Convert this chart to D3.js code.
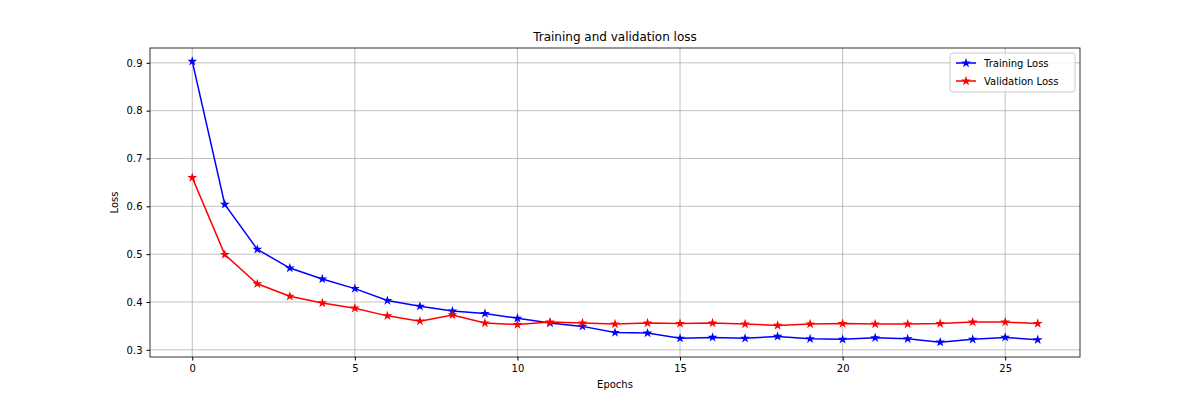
<!DOCTYPE html>
<html><head><meta charset="utf-8">
<script src="https://cdn.jsdelivr.net/npm/d3@7"></script>
<style>body{margin:0;background:#fff}text{font-family:"DejaVu Sans",sans-serif;}</style>
</head><body><svg id="c" width="1200" height="400"></svg>
<script>
const epochs = d3.range(27);
const trainLoss = [0.903,0.604,0.510,0.471,0.448,0.428,0.403,0.391,0.381,0.376,0.366,0.356,0.349,0.336,0.335,0.324,0.326,0.324,0.328,0.323,0.322,0.325,0.323,0.316,0.322,0.326,0.321];
const valLoss = [0.660,0.499,0.438,0.412,0.398,0.387,0.371,0.360,0.373,0.356,0.353,0.358,0.356,0.354,0.356,0.355,0.356,0.354,0.351,0.354,0.355,0.354,0.354,0.355,0.358,0.358,0.355];
const xTicks = [0,5,10,15,20,25];
const yTicks = [0.3,0.4,0.5,0.6,0.7,0.8,0.9];

const svg = d3.select("#c");
const L=150,R=1080,T=48,B=357;
const x = d3.scaleLinear().domain([-1.3,27.3]).range([L,R]);
const y = d3.scaleLinear().domain([0.285,0.931]).range([B,T]);

// grid
svg.append("g").selectAll("line").data(xTicks).join("line")
  .attr("x1",d=>x(d)).attr("x2",d=>x(d)).attr("y1",T).attr("y2",B)
  .attr("stroke","#b0b0b0").attr("stroke-width",0.8);
svg.append("g").selectAll("line").data(yTicks).join("line")
  .attr("y1",d=>y(d)).attr("y2",d=>y(d)).attr("x1",L).attr("x2",R)
  .attr("stroke","#b0b0b0").attr("stroke-width",0.8);

const xa = svg.append("g").attr("transform",`translate(0,${B})`)
  .call(d3.axisBottom(x).tickValues(xTicks).tickFormat(d3.format("d")).tickSize(3.5).tickPadding(4));
const ya = svg.append("g").attr("transform",`translate(${L},0)`)
  .call(d3.axisLeft(y).tickValues(yTicks).tickFormat(d3.format(".1f")).tickSize(3.5).tickPadding(4));
[xa,ya].forEach(a=>{a.select(".domain").remove();a.selectAll("text").attr("font-size",10).attr("fill","#000").style("font-family","DejaVu Sans");a.selectAll("line").attr("stroke","#000");});
svg.append("rect").attr("x",L).attr("y",T).attr("width",R-L).attr("height",B-T)
  .attr("fill","none").attr("stroke","#000").attr("stroke-width",0.8);

const star = d3.symbol().type(d3.symbolStar).size(30);
function series(data,color){
  const pts = epochs.map(i=>[i,data[i]]);
  svg.append("path").datum(pts).attr("fill","none").attr("stroke",color).attr("stroke-width",1.5)
    .attr("d",d3.line().x(d=>x(d[0])).y(d=>y(d[1])));
  svg.append("g").selectAll("path").data(pts).join("path")
    .attr("transform",d=>`translate(${x(d[0])},${y(d[1])})`).attr("d",star).attr("fill",color);
}
series(trainLoss,"blue");
series(valLoss,"red");

svg.append("text").attr("x",(L+R)/2).attr("y",T-7).attr("text-anchor","middle").attr("font-size",12).text("Training and validation loss");
svg.append("text").attr("x",(L+R)/2).attr("y",388).attr("text-anchor","middle").attr("font-size",10).text("Epochs");
svg.append("text").attr("transform",`translate(118,${(T+B)/2}) rotate(-90)`).attr("text-anchor","middle").attr("font-size",10).text("Loss");

// legend
const lg = svg.append("g").attr("transform","translate(950,53)");
lg.append("rect").attr("width",125).attr("height",39).attr("rx",3).attr("fill","#fff").attr("fill-opacity",0.8).attr("stroke","#ccc");
[["Training Loss","blue"],["Validation Loss","red"]].forEach(([t,c],i)=>{
  const yy=10+i*18;
  lg.append("line").attr("x1",6).attr("x2",26).attr("y1",yy).attr("y2",yy).attr("stroke",c).attr("stroke-width",1.5);
  lg.append("path").attr("transform",`translate(16,${yy})`).attr("d",star).attr("fill",c);
  lg.append("text").attr("x",34).attr("y",yy+3.5).attr("font-size",10).text(t);
});
</script></body></html>
